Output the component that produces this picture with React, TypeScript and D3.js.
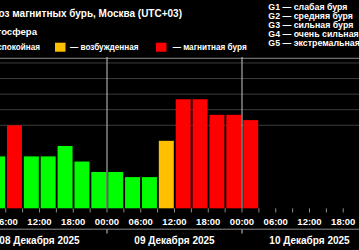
import React from "react";
import * as d3 from "d3";

// Data: 3-hour Kp forecast (Moscow time, UTC+03)
const barStarts = [
  "2025-12-08T03:00", "2025-12-08T06:00", "2025-12-08T09:00", "2025-12-08T12:00",
  "2025-12-08T15:00", "2025-12-08T18:00", "2025-12-08T21:00",
  "2025-12-09T00:00", "2025-12-09T03:00", "2025-12-09T06:00", "2025-12-09T09:00",
  "2025-12-09T12:00", "2025-12-09T15:00", "2025-12-09T18:00", "2025-12-09T21:00",
  "2025-12-10T00:00",
];
const kpValues = [3, 5, 3, 3, 3.67, 2.67, 2, 2, 1.67, 1.67, 4, 6.67, 6.67, 5.67, 5.67, 5.33];
const gridLevels = [5, 6, 7, 8, 9];
const dayLabels = ["08 Декабря 2025", "09 Декабря 2025", "10 Декабря 2025"];
const dayStarts = ["2025-12-08T00:00", "2025-12-09T00:00", "2025-12-10T00:00"];
const gLegend = [
  "G1 — слабая буря",
  "G2 — средняя буря",
  "G3 — сильная буря",
  "G4 — очень сильная буря",
  "G5 — экстремальная буря",
];
const stateLegend = ["— спокойная", "— возбужденная", "— магнитная буря"];
const stateColors = ["#00ff00", "#ffc000", "#ff0000"];
const title = "Прогноз магнитных бурь, Москва (UTC+03)";
const subtitle = "Магнитосфера";

const W = 359;
const H = 250;
const FONT = "'Liberation Sans', Arial, sans-serif";

const parse = (s: string) => new Date(s + ":00Z");

export default function App() {
  const x = d3
    .scaleUtc()
    .domain([parse("2025-12-08T00:00"), parse("2025-12-11T00:00")])
    .range([-28, 377]);
  const y = d3.scaleLinear().domain([-1 / 3, 9.3]).range([208.3, 58.3]);
  const threeH = 3 * 3600 * 1000;
  const pitch = x(new Date(parse("2025-12-08T00:00").getTime() + threeH)) - x(parse("2025-12-08T00:00"));
  const ticks = x.ticks(d3.utcHour.every(3) as any);
  const color = (v: number) => (v >= 5 ? stateColors[2] : v >= 4 ? stateColors[1] : stateColors[0]);
  const fmt = d3.utcFormat("%H:%M");

  const legendSquares = [-30, 55, 156];
  const legendTextStart = [null, 70, 172.7];

  return (
    <svg
      width={W}
      height={H}
      style={{ position: "fixed", left: 0, top: 0, background: "#000", display: "block" }}
      fontFamily={FONT}
    >
      <rect x={0} y={0} width={W} height={H} fill="#000" />
      {/* titles */}
      <text x={182} y={16.7} textAnchor="end" fill="#fff" fontSize={10} fontWeight="bold">
        {title}
      </text>
      <text x={37} y={35} textAnchor="end" fill="#fff" fontSize={9.6} fontWeight="bold">
        {subtitle}
      </text>
      {/* state legend */}
      {stateLegend.map((t, i) => (
        <g key={t}>
          <rect x={legendSquares[i]} y={42.7} width={10.5} height={9} fill={stateColors[i]} />
          {i === 0 ? (
            <text x={40} y={50} textAnchor="end" fill="#fff" fontSize={8.2} fontWeight="bold">
              {t}
            </text>
          ) : (
            <text x={legendTextStart[i] as number} y={50} fill="#fff" fontSize={8.2} fontWeight="bold">
              {t}
            </text>
          )}
        </g>
      ))}
      {/* G legend */}
      {gLegend.map((t, i) => (
        <text key={t} x={268.3} y={10 + i * 9} fill="#fff" fontSize={8.8} fontWeight="bold">
          {t}
        </text>
      ))}
      {/* grid */}
      {gridLevels.map((g) => (
        <line key={g} x1={0} x2={W} y1={y(g)} y2={y(g)} stroke="#3c3c3c" strokeWidth={1} />
      ))}
      <line x1={0} x2={W} y1={58.3} y2={58.3} stroke="#8a8a8a" strokeWidth={1} />
      {/* bars */}
      {barStarts.map((s, i) => {
        const x0 = x(parse(s));
        return (
          <rect
            key={s}
            x={x0 + 1.2}
            y={y(kpValues[i])}
            width={pitch - 1.9}
            height={y(-1 / 3) - y(kpValues[i])}
            fill={color(kpValues[i])}
          />
        );
      })}
      {/* day separators */}
      {dayStarts.slice(1).map((d) => (
        <g key={d}>
          <line x1={x(parse(d))} x2={x(parse(d))} y1={57} y2={208.3} stroke="#c8c8c8" strokeWidth={1} />
          <line x1={x(parse(d))} x2={x(parse(d))} y1={229} y2={233.5} stroke="#c8c8c8" strokeWidth={1} />
        </g>
      ))}
      {/* ticks */}
      {ticks.map((t) => (
        <line key={+t} x1={x(t)} x2={x(t)} y1={208.3} y2={212.5} stroke="#8a8a8a" strokeWidth={1} />
      ))}
      {ticks
        .filter((t) => t.getUTCHours() % 6 === 0)
        .map((t) => (
          <text key={"l" + +t} x={x(t)} y={224.5} textAnchor="middle" fill="#fff" fontSize={9.5} fontWeight="bold">
            {fmt(t)}
          </text>
        ))}
      <line x1={0} x2={W} y1={229.2} y2={229.2} stroke="#8a8a8a" strokeWidth={1} />
      {dayLabels.map((l, i) => {
        const c = x(new Date(parse(dayStarts[i]).getTime() + 12 * 3600 * 1000));
        return (
          <text key={l} x={c} y={243.5} textAnchor="middle" fill="#fff" fontSize={10} fontWeight="bold">
            {l}
          </text>
        );
      })}
    </svg>
  );
}
